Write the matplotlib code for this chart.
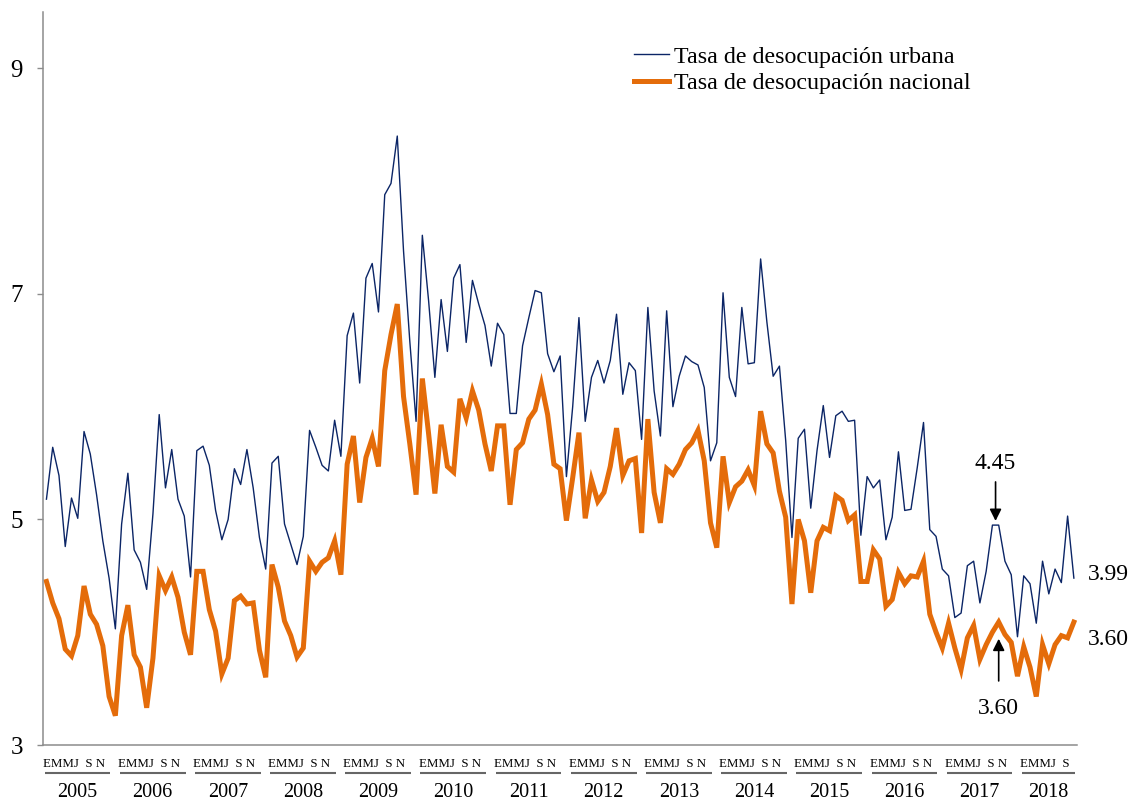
import numpy as np
import matplotlib.pyplot as plt

plt.switch_backend('agg')
plt.rcParams['font.family'] = ['Liberation Serif', 'DejaVu Serif']

# Monthly series, Jan 2005 - Sep 2018 (values as read on the chart's own axis)
urbana = [
    5.18, 5.64, 5.39, 4.76, 5.19, 5.01, 5.78, 5.58, 5.22, 4.81, 4.48, 4.03,  # 2005
    4.96, 5.41, 4.73, 4.62, 4.38, 5.05, 5.93, 5.28, 5.62, 5.18, 5.03, 4.49,  # 2006
    5.61, 5.65, 5.48, 5.08, 4.82, 5.00, 5.45, 5.31, 5.62, 5.28, 4.84, 4.56,  # 2007
    5.50, 5.56, 4.96, 4.78, 4.60, 4.85, 5.79, 5.64, 5.48, 5.43, 5.88, 5.56,  # 2008
    6.63, 6.83, 6.21, 7.14, 7.27, 6.84, 7.88, 7.98, 8.40, 7.38, 6.58, 5.87,  # 2009
    7.52, 6.94, 6.26, 6.95, 6.49, 7.14, 7.26, 6.57, 7.12, 6.91, 6.72, 6.36,  # 2010
    6.74, 6.64, 5.94, 5.94, 6.54, 6.79, 7.03, 7.01, 6.47, 6.31, 6.45, 5.38,  # 2011
    6.00, 6.79, 5.87, 6.26, 6.41, 6.21, 6.41, 6.82, 6.11, 6.39, 6.32, 5.71,  # 2012
    6.88, 6.14, 5.74, 6.85, 6.00, 6.27, 6.45, 6.40, 6.37, 6.17, 5.52, 5.68,  # 2013
    7.01, 6.26, 6.09, 6.88, 6.38, 6.39, 7.31, 6.75, 6.27, 6.36, 5.70, 4.84,  # 2014
    5.72, 5.80, 5.10, 5.61, 6.01, 5.55, 5.92, 5.96, 5.87, 5.88, 4.86, 5.38,  # 2015
    5.28, 5.35, 4.82, 5.02, 5.60, 5.08, 5.09, 5.46, 5.86, 4.91, 4.85, 4.56,  # 2016
    4.50, 4.13, 4.17, 4.59, 4.63, 4.26, 4.54, 4.95, 4.95, 4.63, 4.51, 3.96,  # 2017
    4.50, 4.43, 4.08, 4.63, 4.34, 4.56, 4.44, 5.03, 4.48,                    # 2018
]
nacional = [
    4.45, 4.26, 4.12, 3.85, 3.79, 3.97, 4.41, 4.16, 4.07, 3.88, 3.43, 3.26,  # 2005
    3.97, 4.24, 3.80, 3.69, 3.33, 3.77, 4.50, 4.37, 4.49, 4.31, 4.00, 3.80,  # 2006
    4.54, 4.54, 4.20, 4.01, 3.63, 3.77, 4.28, 4.32, 4.25, 4.26, 3.84, 3.60,  # 2007
    4.60, 4.40, 4.10, 3.97, 3.78, 3.86, 4.63, 4.54, 4.62, 4.66, 4.81, 4.51,  # 2008
    5.49, 5.74, 5.15, 5.55, 5.72, 5.47, 6.32, 6.64, 6.91, 6.09, 5.67, 5.22,  # 2009
    6.25, 5.76, 5.23, 5.84, 5.47, 5.42, 6.07, 5.90, 6.14, 5.97, 5.67, 5.43,  # 2010
    5.83, 5.83, 5.13, 5.62, 5.68, 5.89, 5.97, 6.20, 5.93, 5.49, 5.45, 4.99,  # 2011
    5.37, 5.77, 5.01, 5.35, 5.16, 5.24, 5.47, 5.81, 5.39, 5.52, 5.54, 4.88,  # 2012
    5.89, 5.24, 4.97, 5.45, 5.40, 5.49, 5.62, 5.68, 5.79, 5.52, 4.97, 4.75,  # 2013
    5.56, 5.15, 5.29, 5.34, 5.44, 5.30, 5.96, 5.67, 5.59, 5.25, 5.02, 4.25,  # 2014
    5.00, 4.81, 4.35, 4.81, 4.93, 4.90, 5.21, 5.17, 4.99, 5.04, 4.45, 4.45,  # 2015
    4.73, 4.65, 4.23, 4.29, 4.53, 4.43, 4.50, 4.49, 4.63, 4.16, 4.00, 3.86,  # 2016
    4.08, 3.86, 3.67, 3.95, 4.06, 3.76, 3.89, 4.00, 4.09, 3.98, 3.91, 3.61,  # 2017
    3.87, 3.69, 3.43, 3.89, 3.72, 3.89, 3.97, 3.95, 4.09,                    # 2018
]
first_year = 2005
month_initials = ['E', 'M', 'M', 'J', 'S', 'N']   # every other month
month_gaps = ['', '', '', '  ', ' ']
y_ticks = [3, 5, 7, 9]

# annotated values (real rates)
ann_urb_peak = '4.45'
ann_nac_peak = '3.60'
ann_urb_end = '3.99'
ann_nac_end = '3.60'

col_urb = '#0B2566'
col_nac = '#E46C0A'
grey = '#8C8C8C'

W, H = 1132, 801
fig = plt.figure(figsize=(W / 100, H / 100), dpi=100)
ax = fig.add_axes([43 / W, 1 - 745 / H, (1077 - 43) / W, (745 - 12) / H])

x = np.arange(len(urbana))
ax.plot(x, urbana, color=col_urb, lw=1.0, label='Tasa de desocupación urbana')
ax.plot(x, nacional, color=col_nac, lw=3.6, solid_joinstyle='miter',
        label='Tasa de desocupación nacional')

ax.set_xlim(-0.55, len(x) - 0.5)
ax.set_ylim(3, 9.5)
ax.set_yticks(y_ticks)
ax.set_yticklabels([str(t) for t in y_ticks], fontsize=18)
ax.tick_params(axis='y', direction='out', length=4.5, width=1.0, color=grey, pad=10)
ax.tick_params(axis='x', length=0, labelbottom=False)
for s in ['top', 'right']:
    ax.spines[s].set_visible(False)
for s in ['left', 'bottom']:
    ax.spines[s].set_color(grey)
    ax.spines[s].set_linewidth(1.1)

# month initials, underline and year per year group
trans = ax.get_xaxis_transform()
ax_h = 745 - 12
y_month = -(767 - 745) / ax_h
y_line = -(773 - 745) / ax_h
y_year = -(797 - 745) / ax_h
n_years = int(np.ceil(len(x) / 12))
for k in range(n_years):
    start = k * 12
    n_months = min(12, len(x) - start)
    letters = month_initials[:(n_months + 1) // 2]
    txt = letters[0]
    for g, l in zip(month_gaps, letters[1:]):
        txt += g + l
    ax.text(start - 0.6, y_month, txt, transform=trans, fontsize=9.3,
            ha='left', va='baseline', clip_on=False)
    x0 = start - 0.3
    x1 = start + min(n_months, 11) - 0.8
    ax.plot([x0, x1], [y_line, y_line], transform=trans, color='#666666',
            lw=1.5, clip_on=False, solid_capstyle='butt')
    ax.text((x0 + x1) / 2, y_year, str(first_year + k), transform=trans,
            fontsize=14.5, ha='center', va='baseline', clip_on=False)

# annotations
i_sep17 = 12 * (2017 - first_year) + 8
arrow = dict(arrowstyle='-|>,head_length=0.7,head_width=0.35', color='black',
             lw=1.2, mutation_scale=10)
ax.annotate(ann_urb_peak, xy=(i_sep17 - 0.5, urbana[i_sep17]), xytext=(0, 62),
            textcoords='offset pixels', ha='center', va='center', fontsize=17,
            arrowprops=dict(arrow, shrinkA=4, shrinkB=3))
ax.annotate(ann_nac_peak, xy=(i_sep17, nacional[i_sep17]), xytext=(0, -86),
            textcoords='offset pixels', ha='center', va='center', fontsize=17,
            arrowprops=dict(arrow, shrinkA=10, shrinkB=12))
ax.annotate(ann_urb_end, xy=(x[-1], urbana[-1]), xytext=(14, 4),
            textcoords='offset pixels', ha='left', va='center', fontsize=17,
            annotation_clip=False)
ax.annotate(ann_nac_end, xy=(x[-1], nacional[-1]), xytext=(14, -17),
            textcoords='offset pixels', ha='left', va='center', fontsize=17,
            annotation_clip=False)

leg = ax.legend(loc='upper left', bbox_to_anchor=(634 / W, 1 - 46 / H),
                bbox_transform=fig.transFigure, frameon=False, fontsize=17.3,
                borderpad=0, borderaxespad=0, handlelength=1.45,
                handletextpad=0.22, labelspacing=0.2)

fig.savefig('out.png', dpi=100)
